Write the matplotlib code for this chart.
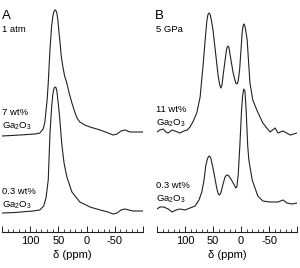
import matplotlib
matplotlib.use('Agg')
import matplotlib.pyplot as plt
import numpy as np

plt.rcParams['font.family'] = ['Liberation Sans', 'DejaVu Sans']
plt.rcParams['mathtext.fontset'] = 'custom'
plt.rcParams['mathtext.rm'] = 'Liberation Sans'
plt.rcParams['mathtext.it'] = 'Liberation Sans'

# panel A, 1 atm
a_low_ppm = [150, 127, 95, 83, 76, 72, 68, 65, 62, 60, 58.5, 57, 55.5, 54, 52.5, 51, 49, 47,
             44, 40, 35, 26, 12, -6, -24, -38, -47, -54, -61, -68, -82, -100]
a_low_int = [0, 0.5, 2, 3, 7, 15, 33, 79, 106, 118, 123, 125.5, 126, 125, 121, 113, 103, 90,
             69, 50, 36, 21, 11, 6, 3, 1, -1, 0, 3, 4, 2, 2]
a_high_ppm = [150, 118, 91, 83, 77, 74, 70, 68, 65, 62, 60, 58.5, 57, 55.5, 54, 52.5, 51, 49,
              47, 45, 42, 39, 35, 31, 26, 21, 17, 12, 3, -6, -24, -38, -47, -54, -61, -68,
              -77, -88, -100]
a_high_int = [0, 1, 2, 3, 7, 14, 36, 53, 86, 110, 119, 123.5, 125.5, 126, 125, 122, 116, 104,
              93, 80, 69, 60, 53, 43, 33, 24, 18, 14, 11, 9, 6, 3, 1, 2, 5, 6,
              4, 4, 4]

# panel B, 5 GPa
b_low_ppm = [150, 145, 138, 130, 123, 116, 109, 100, 91, 82, 75, 70, 66, 63, 60, 58, 56, 54,
             52, 50, 46, 43, 40.5, 38.5, 36, 32, 28.5, 25.5, 22.5, 18, 12, 9.5, 7.5, 5, 2, -1,
             -3, -5, -7, -9, -12, -14, -20, -25, -30, -39, -52, -66, -75, -82, -91, -100]
b_low_int = [-1, 1, 1, -1, -4, -2, -1, -2, 0, 2, 8, 16, 28, 42, 49, 51.5, 52, 50,
             45, 40, 28, 19, 14, 13, 15, 24, 31, 33, 32.5, 29, 23, 20, 21, 33, 63, 98,
             113, 119, 117, 100, 62, 48, 28, 20, 12, 7, 6, 6, 8, 5, 4, 5]
b_high_ppm = [150, 145, 139, 134, 130, 123, 118, 109, 102, 96, 91, 86, 79, 73, 68, 64, 61,
              59, 57, 55, 53, 50, 46, 41, 38, 36, 34, 30, 26, 24.5, 23, 21.5, 20, 14, 9.5, 7,
              5, 2.5, 0, -2, -3.5, -5, -6.5, -8, -11, -16,
              -21, -29, -39, -46, -52, -61, -66, -75, -88, -100]
b_high_int = [0, 2, 3, 0, -1, 2, 1, -1, 1, 2, 5, 10, 19, 35, 65, 92, 111,
              117.5, 119, 117.5, 112, 102, 82, 57, 47, 44, 47, 65, 82, 85, 86, 84.5, 79, 59, 49, 48,
              51, 62, 82, 99, 105.5, 108, 107, 103, 92, 49,
              32, 21, 9, 4, 0, 4, -1, 1, -3, -1]

major_ticks = [150, 100, 50, 0, -50, -100]
major_labels = ['', '100', '50', '0', '-50', '']

W, H = 300, 268
fig = plt.figure(figsize=(W / 100, H / 100), dpi=100)

line_col = '#222222'


def setup(ax, ylim):
    ax.set_xlim(150, -100)
    ax.set_ylim(*ylim)
    for s in ['top', 'left', 'right']:
        ax.spines[s].set_visible(False)
    ax.spines['bottom'].set_linewidth(0.8)
    ax.spines['bottom'].set_color(line_col)
    ax.set_yticks([])
    ax.set_xticks(major_ticks)
    ax.set_xticklabels(major_labels)
    ax.set_xticks(np.arange(-100, 151, 10), minor=True)
    ax.tick_params(axis='x', which='major', direction='in', length=4, width=0.7,
                   labelsize=8, pad=3, colors=line_col, labelcolor='black')
    ax.tick_params(axis='x', which='minor', direction='in', length=2.2, width=0.6,
                   colors=line_col)
    ax.set_xlabel('δ (ppm)', fontsize=8, labelpad=3)
    ax.patch.set_alpha(0)


# panel A
axA = fig.add_axes([2 / W, 36 / H, 141 / W, 232 / H])
setup(axA, (-19, 213))
axA.plot(a_low_ppm, a_low_int, color=line_col, lw=0.8)
axA.plot(a_high_ppm, np.array(a_high_int) + 77, color=line_col, lw=0.8)

# panel B
axB = fig.add_axes([157 / W, 36 / H, 140 / W, 232 / H])
setup(axB, (-24, 208))
axB.plot(b_low_ppm, b_low_int, color=line_col, lw=0.8)
axB.plot(b_high_ppm, np.array(b_high_int) + 76, color=line_col, lw=0.8)


def label(x, y, s, size=6.8):
    fig.text(x / W, 1 - y / H, s, fontsize=size, ha='left', va='center')


label(2, 16, 'A', 9.5)
label(2, 30, '1 atm')
label(2, 113, '7 wt%')
label(2, 126, 'Ga$_2$O$_3$')
label(2, 192, '0.3 wt%')
label(2, 205, 'Ga$_2$O$_3$')

label(155, 16, 'B', 9.5)
label(156, 30, '5 GPa')
label(156, 110, '11 wt%')
label(156, 123, 'Ga$_2$O$_3$')
label(156, 186, '0.3 wt%')
label(156, 199, 'Ga$_2$O$_3$')

fig.savefig('out.png', dpi=100)
